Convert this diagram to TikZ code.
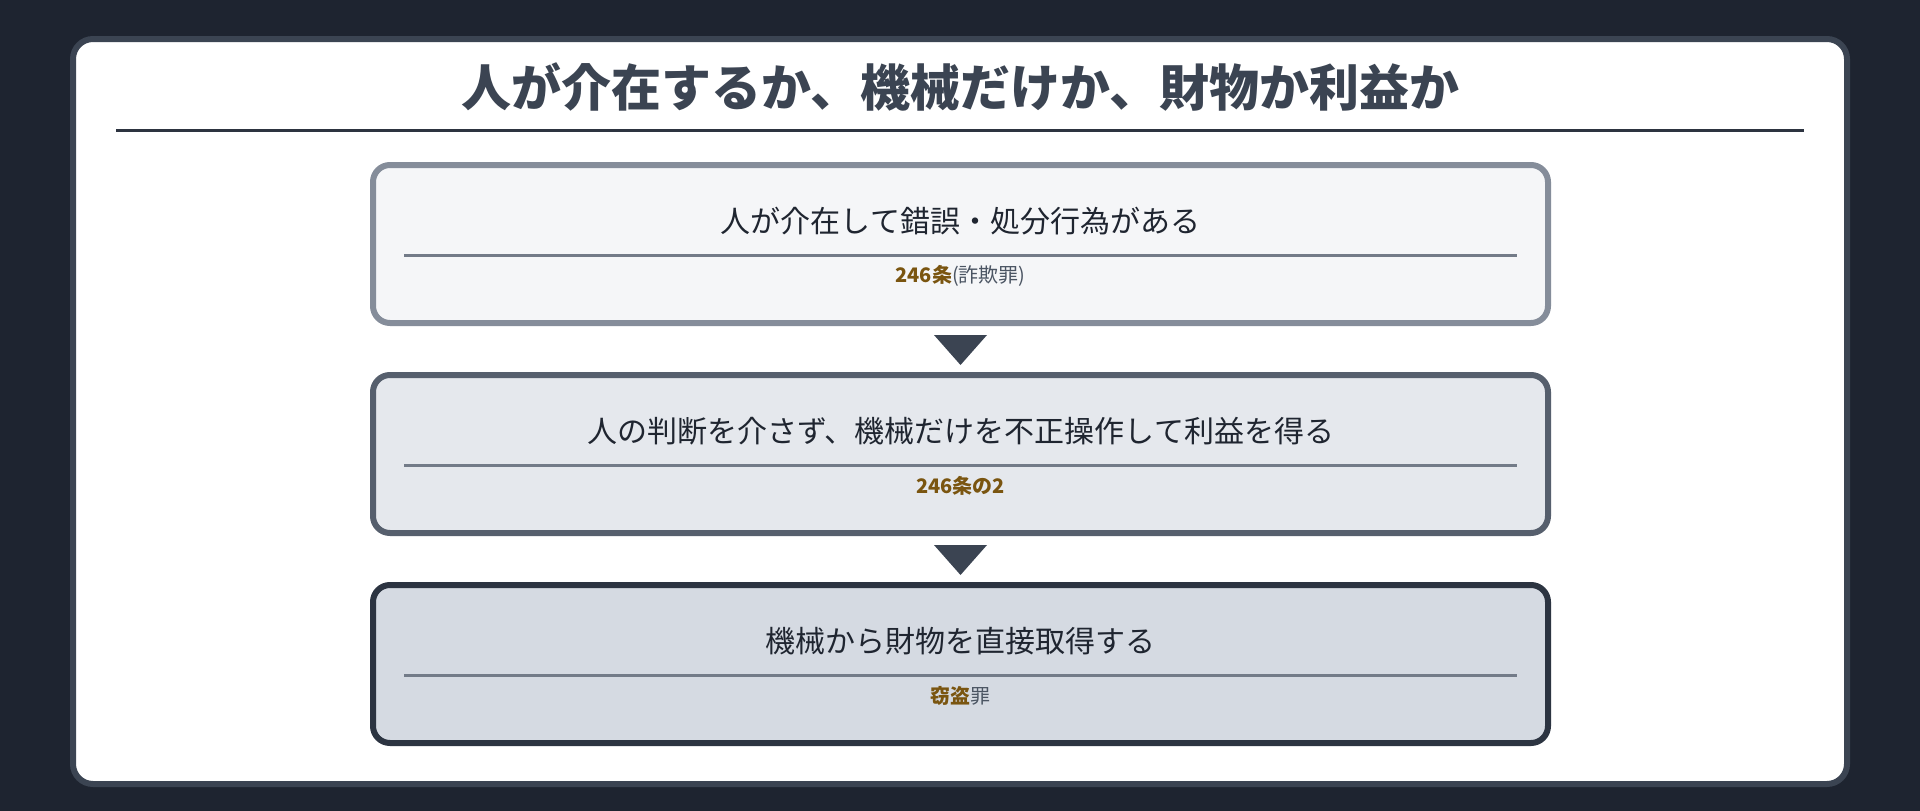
\documentclass[tikz,border=0pt]{standalone}
\usepackage{fontspec}
\setmainfont{Noto Sans CJK JP}
\usetikzlibrary{calc,positioning}
\definecolor{bgdark}{HTML}{1E2430}
\definecolor{panelline}{HTML}{3B4452}
\definecolor{titleink}{HTML}{3B4452}
\definecolor{titlerule}{HTML}{2D3440}
\definecolor{boxAline}{HTML}{858D9A}
\definecolor{boxAfill}{HTML}{F5F6F8}
\definecolor{boxBline}{HTML}{565F6D}
\definecolor{boxBfill}{HTML}{E5E8ED}
\definecolor{boxCline}{HTML}{2C3441}
\definecolor{boxCfill}{HTML}{D5DAE2}
\definecolor{innerrule}{HTML}{737B88}
\definecolor{textdark}{HTML}{1F2530}
\definecolor{subgrey}{HTML}{4B5563}
\definecolor{lawbrown}{HTML}{7A5510}
\tikzset{
  panel/.style={draw=panelline, fill=white, line width=6pt, rounded corners=20pt,
    minimum width=1774pt, minimum height=745pt, inner sep=0pt},
  casebox/.style={line width=6pt, rounded corners=17pt, minimum width=1175pt,
    minimum height=158pt, inner sep=0pt},
  maintext/.style={text=textdark, font=\fontsize{30}{36}\selectfont},
  subtext/.style={text=subgrey, font=\fontsize{20}{24}\selectfont},
  sepline/.style={draw=innerrule, line width=3pt},
  downtri/.style={fill=panelline},
}
\newcommand{\law}[1]{\textcolor{lawbrown}{\bfseries #1}}
\begin{document}
\begin{tikzpicture}[x=1pt,y=-1pt]
  \fill[bgdark] (0,0) rectangle (1920,811);
  \useasboundingbox (0,0) rectangle (1920,811);
  \node[panel] (panel) at (960,411.5) {};
  \node[text=titleink, font=\fontsize{50}{58}\selectfont\bfseries] (title) at (960,87)
    {人が介在するか、機械だけか、財物か利益か};
  \draw[titlerule, line width=3pt] (116,130.5) -- (1804,130.5);

  \node[casebox, draw=boxAline, fill=boxAfill] (human) at (960.5,244) {};
  \node[casebox, draw=boxBline, fill=boxBfill, below=46pt of human] (machine) {};
  \node[casebox, draw=boxCline, fill=boxCfill, below=46pt of machine] (theft) {};

  \node[maintext] (humantext) at ($(human.north)+(0,59)$) {人が介在して錯誤・処分行為がある};
  \node[subtext] (humanlaw) at ($(human.north)+(0,114)$) {\law{246条}(詐欺罪)};
  \node[maintext] (machinetext) at ($(machine.north)+(0,59)$) {人の判断を介さず、機械だけを不正操作して利益を得る};
  \node[subtext] (machinelaw) at ($(machine.north)+(0,114)$) {\law{246条の2}};
  \node[maintext] (thefttext) at ($(theft.north)+(0,59)$) {機械から財物を直接取得する};
  \node[subtext] (theftlaw) at ($(theft.north)+(0,114)$) {\law{窃盗}罪};

  \foreach \b in {human,machine,theft}
    \draw[sepline] ($(\b.north west)+(34,93.5)$) -- ($(\b.north east)+(-34,93.5)$);

  \coordinate (step1) at ($(human.south)!0.5!(machine.north)$);
  \coordinate (step2) at ($(machine.south)!0.5!(theft.north)$);
  \foreach \c in {step1,step2}
    \fill[downtri] ($(\c)+(-26.5,-14)$) -- ($(\c)+(26.5,-14)$) -- ($(\c)+(0,16)$) -- cycle;
\end{tikzpicture}
\end{document}
